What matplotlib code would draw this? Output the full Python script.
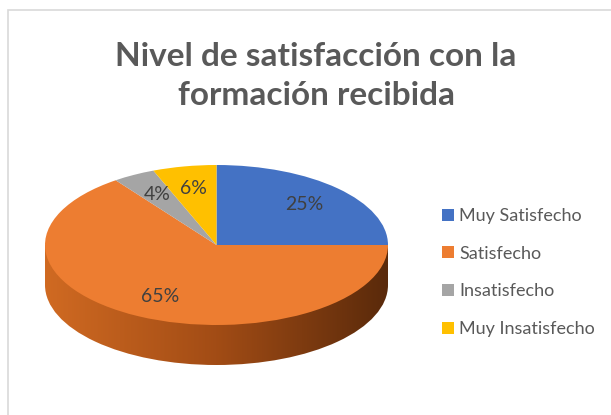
import numpy as np
import matplotlib
matplotlib.use('Agg')
import matplotlib.pyplot as plt
from matplotlib.patches import Rectangle, Ellipse
from matplotlib.colors import LinearSegmentedColormap

categorias = ['Muy Satisfecho', 'Satisfecho', 'Insatisfecho', 'Muy Insatisfecho']
porcentajes = [25, 65, 4, 6]
colores = ['#4472C4', '#ED7D31', '#A5A5A5', '#FFC000']
titulo = 'Nivel de satisfacción con la\nformación recibida'

plt.rcParams['font.family'] = ['Lato', 'DejaVu Sans']

W, H = 611, 415
fig = plt.figure(figsize=(W / 100, H / 100), dpi=100)
fig.patch.set_facecolor('white')

# chart frame (cropped on the right and bottom)
fig.add_artist(Rectangle((8 / W, -0.1), 1.0, 1.1 - 10 / H, transform=fig.transFigure,
                         fill=False, edgecolor='#D9D9D9', linewidth=1.2))

fig.text(316 / W, (H - 76) / H, titulo, ha='center', va='center', fontsize=24,
         fontweight='bold', color='#595959', linespacing=1.45)

ax = fig.add_axes([45 / W, 50 / H, 343 / W, 200 / H])
depth = 0.5

# side wall of the 3D pie, shaded from left to right
grad = np.linspace(0, 1, 256).reshape(1, -1)
cmap_lado = LinearSegmentedColormap.from_list('lado', ['#D06A22', '#A24C15', '#5A2A0B'])
for clip in [Ellipse((0, -depth), 2, 2), Rectangle((-1, -depth), 2, depth)]:
    img = ax.imshow(grad, extent=[-1, 1, -1 - depth, 0], cmap=cmap_lado,
                    aspect='auto', zorder=1)
    clip.set_transform(ax.transData)
    img.set_clip_path(clip)

wedges, texts, autotexts = ax.pie(
    porcentajes, colors=colores, startangle=90, counterclock=False, radius=1,
    autopct='%d%%', pctdistance=0.72,
    textprops=dict(color='#404040', fontsize=14),
    wedgeprops=dict(linewidth=0, zorder=3, clip_on=False))
for t in autotexts:
    t.set_zorder(5)

ax.set_aspect('auto')
ax.set_xlim(-1, 1)
ax.set_ylim(-1 - depth, 1)
ax.axis('off')

leg = fig.legend(wedges, categorias, loc='upper left', bbox_to_anchor=(433 / W, (H - 199) / H),
                 frameon=False, fontsize=13, handlelength=0.65, handleheight=0.65,
                 handletextpad=0.3, labelspacing=1.2, borderpad=0)
for t in leg.get_texts():
    t.set_color('#595959')

fig.savefig('out.png', dpi=100)
